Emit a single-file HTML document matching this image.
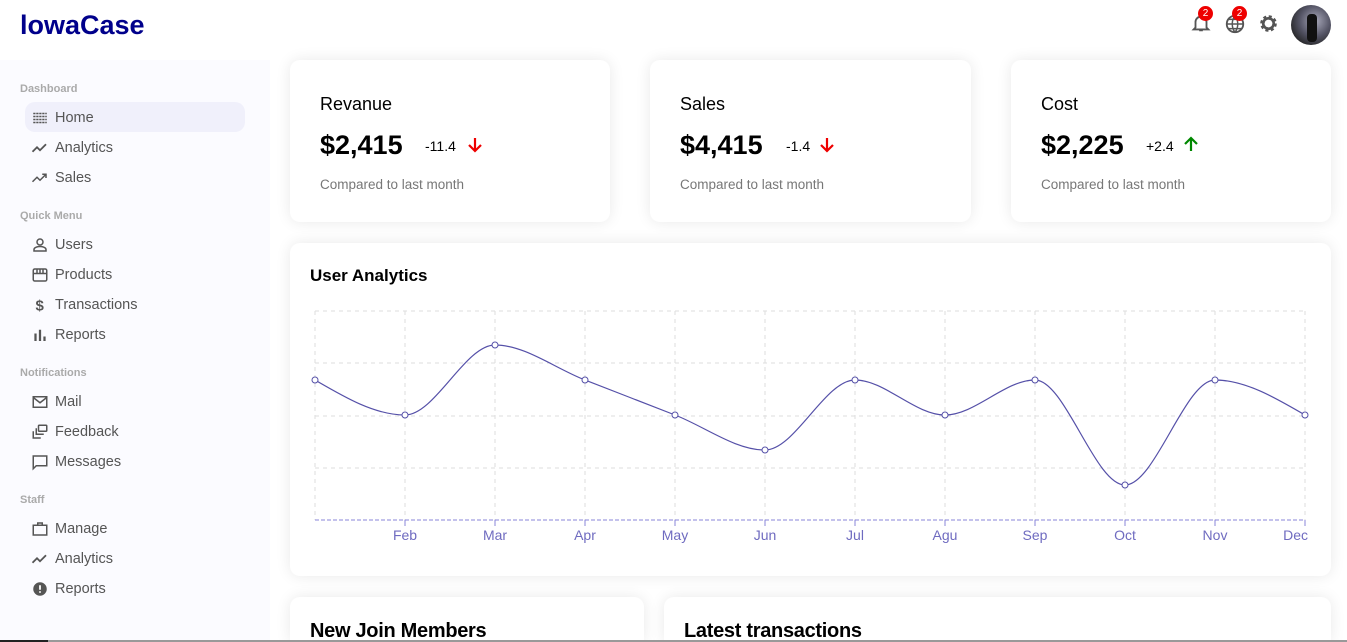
<!DOCTYPE html>
<html><head><meta charset="utf-8"><style>
*{margin:0;padding:0;box-sizing:border-box}
html,body{width:1347px;height:642px;overflow:hidden}
body{background:#fff;font-family:"Liberation Sans",sans-serif;position:relative;color:#000}
.a{position:absolute;white-space:nowrap}
.side{position:absolute;left:0;top:60px;width:270px;height:582px;background:#fbfbff}
.sec{position:absolute;left:20px;font-size:11px;font-weight:bold;color:#aaa}
.it{position:absolute;left:31px;font-size:14.5px;color:#555;display:flex;align-items:center}
.it svg{width:18px;height:18px;margin-right:6px}
.card{position:absolute;background:#fff;border-radius:10px;box-shadow:0 0 15px rgba(0,0,0,.09)}
.t{font-size:18px}
.big{font-size:27px;font-weight:bold}
.sm{font-size:13.5px;color:#777}
</style></head><body>
<div class="a" style="left:20px;top:10px;font-size:27px;font-weight:bold;color:#00008b">lowaCase</div>
<svg class="a" style="left:1190px;top:12px" width="22" height="22" viewBox="0 0 24 24"><path d="M6 17V11a6 6 0 0112 0v6l2 2H4z M10 20h4" fill="none" stroke="#555" stroke-width="2"/></svg>
<div class="a" style="left:1198px;top:6px;width:15px;height:15px;border-radius:50%;background:#e00;color:#fff;font-size:10px;text-align:center;line-height:15px">2</div>
<svg class="a" style="left:1224px;top:13px" width="22" height="22" viewBox="0 0 24 24"><circle cx="12" cy="12" r="9" fill="none" stroke="#555" stroke-width="2"/><path d="M3 12h18M12 3c-4 5-4 13 0 18M12 3c4 5 4 13 0 18M5 7h14M5 17h14" fill="none" stroke="#555" stroke-width="1.6"/></svg>
<div class="a" style="left:1232px;top:6px;width:15px;height:15px;border-radius:50%;background:#e00;color:#fff;font-size:10px;text-align:center;line-height:15px">2</div>
<svg class="a" style="left:1258px;top:13px" width="21" height="21" viewBox="0 0 24 24"><circle cx="12" cy="12" r="7" fill="none" stroke="#555" stroke-width="5" stroke-dasharray="3 2.5"/><circle cx="12" cy="12" r="6" fill="none" stroke="#555" stroke-width="3"/></svg>
<div class="a" style="left:1291px;top:5px;width:40px;height:40px;border-radius:50%;background:radial-gradient(circle at 60% 40%,#aab 0,#556 45%,#222 80%)"></div>
<div class="a" style="left:1307px;top:14px;width:10px;height:28px;background:#111;border-radius:4px"></div>

<div class="side"></div>
<div class="sec" style="top:83px">Dashboard</div>
<div class="a" style="left:25px;top:102px;width:220px;height:30px;border-radius:10px;background:#f0f0fb"></div>
<div class="it" style="top:109px"><svg viewBox="0 0 24 24"><path d="M3 6h18M3 10h18M3 14h18M3 18h18" stroke="#555" stroke-width="2" stroke-dasharray="3 1"/></svg>Home</div>
<div class="it" style="top:139px"><svg viewBox="0 0 24 24"><path d="M2 17l6-6 4 4 8-8" fill="none" stroke="#555" stroke-width="2.4"/></svg>Analytics</div>
<div class="it" style="top:169px"><svg viewBox="0 0 24 24"><path d="M2 17l6-6 4 4 8-8M15 7h5v5" fill="none" stroke="#555" stroke-width="2"/></svg>Sales</div>
<div class="sec" style="top:210px">Quick Menu</div>
<div class="it" style="top:236px"><svg viewBox="0 0 24 24"><circle cx="12" cy="8" r="4" fill="none" stroke="#555" stroke-width="2"/><path d="M4 20v-2c0-3 5-4 8-4s8 1 8 4v2z" fill="none" stroke="#555" stroke-width="2"/></svg>Users</div>
<div class="it" style="top:266px"><svg viewBox="0 0 24 24"><rect x="3" y="4" width="18" height="16" rx="2" fill="none" stroke="#555" stroke-width="2"/><path d="M3 10h18M8 4v6M12 4v6M16 4v6" stroke="#555" stroke-width="2"/></svg>Products</div>
<div class="it" style="top:296px"><svg viewBox="0 0 24 24"><text x="6" y="19" font-size="20" font-weight="bold" fill="#555" font-family="Liberation Sans">$</text></svg>Transactions</div>
<div class="it" style="top:326px"><svg viewBox="0 0 24 24"><path d="M6 20V10M12 20V5M18 20v-6" stroke="#555" stroke-width="3"/></svg>Reports</div>
<div class="sec" style="top:367px">Notifications</div>
<div class="it" style="top:393px"><svg viewBox="0 0 24 24"><rect x="3" y="5" width="18" height="14" fill="none" stroke="#555" stroke-width="2"/><path d="M3 6l9 7 9-7" fill="none" stroke="#555" stroke-width="2"/></svg>Mail</div>
<div class="it" style="top:423px"><svg viewBox="0 0 24 24"><rect x="10" y="3" width="11" height="8" rx="1" fill="none" stroke="#555" stroke-width="2"/><path d="M7 7v8h10M3 11v9h10" fill="none" stroke="#555" stroke-width="2"/></svg>Feedback</div>
<div class="it" style="top:453px"><svg viewBox="0 0 24 24"><path d="M3 4h18v13H7l-4 4z" fill="none" stroke="#555" stroke-width="2"/></svg>Messages</div>
<div class="sec" style="top:494px">Staff</div>
<div class="it" style="top:520px"><svg viewBox="0 0 24 24"><rect x="3" y="7" width="18" height="13" fill="none" stroke="#555" stroke-width="2"/><path d="M9 7V4h6v3" fill="none" stroke="#555" stroke-width="2"/></svg>Manage</div>
<div class="it" style="top:550px"><svg viewBox="0 0 24 24"><path d="M2 17l6-6 4 4 8-8" fill="none" stroke="#555" stroke-width="2.4"/></svg>Analytics</div>
<div class="it" style="top:580px"><svg viewBox="0 0 24 24"><circle cx="12" cy="12" r="9" fill="#555"/><path d="M12 7v6M12 15v2" stroke="#fff" stroke-width="2.4"/></svg>Reports</div>

<div class="card" style="left:290px;top:60px;width:320px;height:162px"></div>
<div class="card" style="left:650px;top:60px;width:321px;height:162px"></div>
<div class="card" style="left:1011px;top:60px;width:320px;height:162px"></div>
<div class="a t" style="left:320px;top:94px">Revanue</div>
<div class="a big" style="left:320px;top:130px">$2,415</div>
<div class="a" style="left:425px;top:138px;font-size:14px">-11.4</div>
<svg class="a" style="left:466px;top:136px" width="18" height="18" viewBox="0 0 18 18"><path d="M9 2v13M3 9l6 6 6-6" fill="none" stroke="#e00" stroke-width="2.2"/></svg>
<div class="a sm" style="left:320px;top:177px">Compared to last month</div>
<div class="a t" style="left:680px;top:94px">Sales</div>
<div class="a big" style="left:680px;top:130px">$4,415</div>
<div class="a" style="left:786px;top:138px;font-size:14px">-1.4</div>
<svg class="a" style="left:818px;top:136px" width="18" height="18" viewBox="0 0 18 18"><path d="M9 2v13M3 9l6 6 6-6" fill="none" stroke="#e00" stroke-width="2.2"/></svg>
<div class="a sm" style="left:680px;top:177px">Compared to last month</div>
<div class="a t" style="left:1041px;top:94px">Cost</div>
<div class="a big" style="left:1041px;top:130px">$2,225</div>
<div class="a" style="left:1146px;top:138px;font-size:14px">+2.4</div>
<svg class="a" style="left:1182px;top:135px" width="18" height="18" viewBox="0 0 18 18"><path d="M9 16V3M3 9l6-6 6 6" fill="none" stroke="#080" stroke-width="2.2"/></svg>
<div class="a sm" style="left:1041px;top:177px">Compared to last month</div>

<div class="card" style="left:290px;top:243px;width:1041px;height:333px"></div>
<div class="a" style="left:310px;top:266px;font-size:17px;font-weight:bold">User Analytics</div>
<svg class="a" style="left:0;top:0" width="1347" height="642" id="ch"></svg>

<div class="card" style="left:290px;top:597px;width:354px;height:45px;border-radius:10px 10px 0 0"></div>
<div class="card" style="left:664px;top:597px;width:667px;height:45px;border-radius:10px 10px 0 0"></div>
<div class="a" style="left:310px;top:620px;font-size:20px;line-height:22px;height:22px;overflow:hidden;font-weight:bold;letter-spacing:-0.3px">New Join Members</div>
<div class="a" style="left:684px;top:620px;font-size:20px;line-height:22px;height:22px;overflow:hidden;font-weight:bold;letter-spacing:-0.3px">Latest transactions</div>
<div class="a" style="left:0;top:640px;width:1347px;height:2px;background:#999;z-index:5"></div>
<div class="a" style="left:0;top:640px;width:48px;height:2px;background:#222;z-index:6"></div>

<script>
var s=document.getElementById('ch'),h='';
var X=[],Y=[380,415,345,380,415,450,380,415,380,485,380,415];
for(var i=0;i<12;i++)X.push(315+90*i);
[311,363,416,468].forEach(function(y){h+='<line x1="315" x2="1305" y1="'+y+'" y2="'+y+'" stroke="#ddd" stroke-dasharray="4 4"/>';});
X.forEach(function(x){h+='<line x1="'+x+'" x2="'+x+'" y1="311" y2="520" stroke="#ddd" stroke-dasharray="4 4"/>';});
h+='<line x1="315" x2="1305" y1="520" y2="520" stroke="#8884d8" stroke-dasharray="4 2"/>';
var M=['','Feb','Mar','Apr','May','Jun','Jul','Agu','Sep','Oct','Nov','Dec'];
for(var i=1;i<12;i++){h+='<line x1="'+X[i]+'" x2="'+X[i]+'" y1="520" y2="526" stroke="#8884d8"/>';
var anc=i==11?'end':'middle',xx=i==11?X[i]+3:X[i];
h+='<text x="'+xx+'" y="540" text-anchor="'+anc+'" font-size="14" fill="#6f6bc0" font-family="Liberation Sans">'+M[i]+'</text>';}
var n=12,d=[],m=[];
for(var i=0;i<n-1;i++)d.push((Y[i+1]-Y[i])/90);
for(var i=1;i<n-1;i++){var a=d[i-1],b=d[i]; m[i]=(Math.sign(a)+Math.sign(b))*Math.min(Math.abs(a),Math.abs(b),0.5*Math.abs((a+b)/2));}
m[0]=(3*d[0]-m[1])/2; m[n-1]=(3*d[n-2]-m[n-2])/2;
var p='M'+X[0]+','+Y[0];
for(var i=0;i<n-1;i++){p+='C'+(X[i]+30)+','+(Y[i]+30*m[i])+' '+(X[i+1]-30)+','+(Y[i+1]-30*m[i+1])+' '+X[i+1]+','+Y[i+1];}
h+='<path d="'+p+'" fill="none" stroke="#5550a8" stroke-width="1.2"/>';
for(var i=0;i<n;i++)h+='<circle cx="'+X[i]+'" cy="'+Y[i]+'" r="3" fill="#fff" stroke="#5550a8"/>';
s.innerHTML=h;
</script>
</body></html>
